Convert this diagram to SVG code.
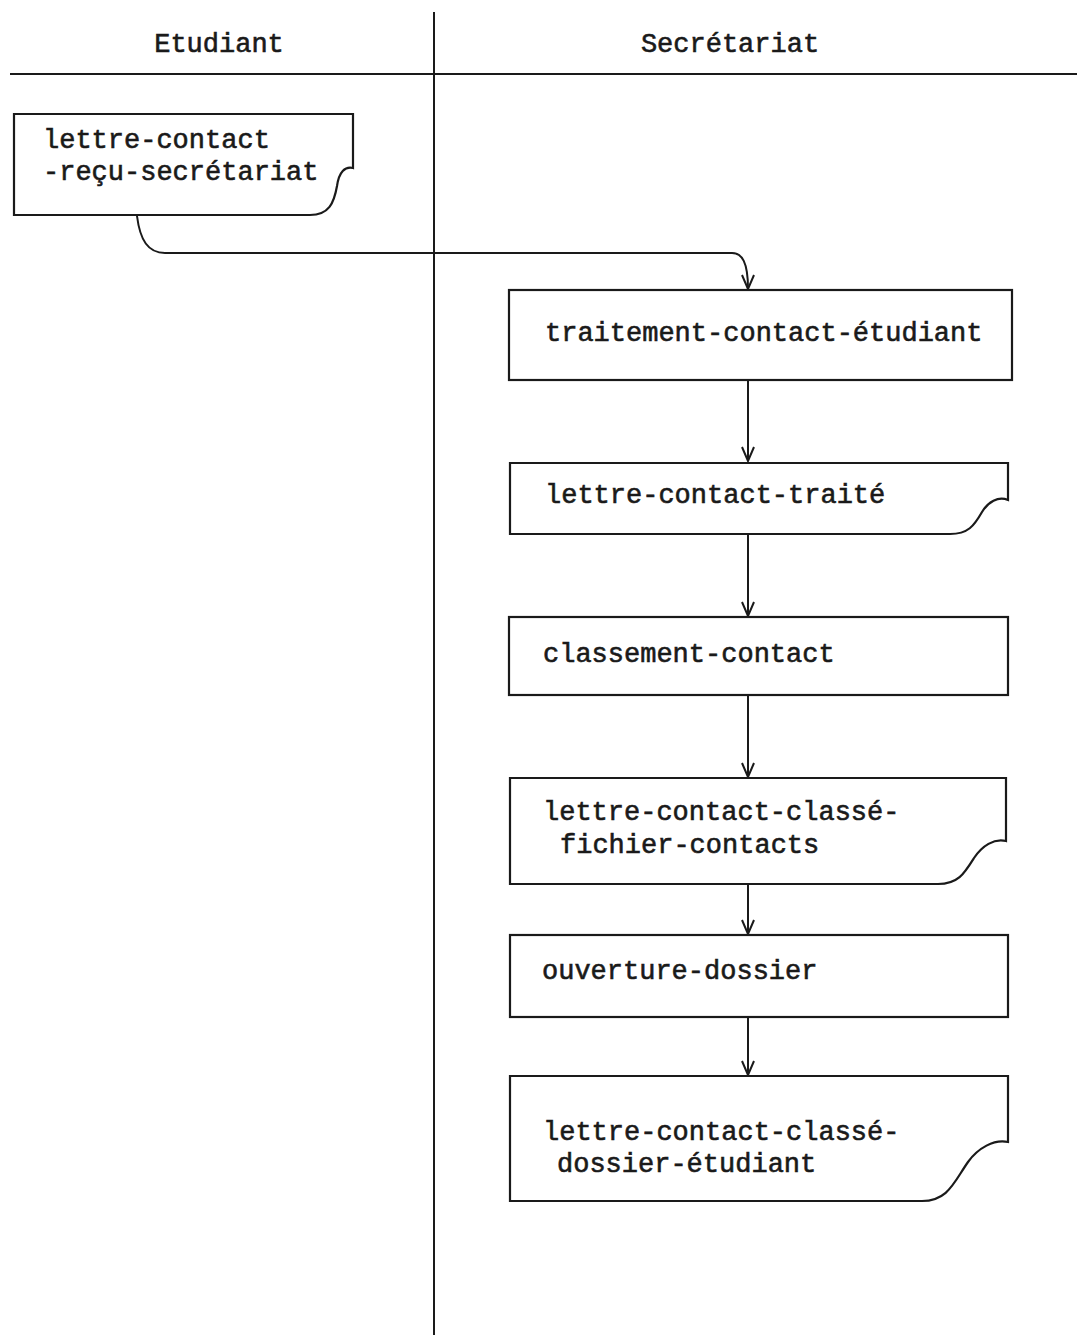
<svg xmlns="http://www.w3.org/2000/svg" width="1077" height="1335" viewBox="0 0 1077 1335">
<defs>
<style>
.ln{fill:none;stroke:#1a1a1a;stroke-width:2}
.shape{fill:#fff;stroke:#1a1a1a;stroke-width:2.2}
text{font-family:"Liberation Mono","DejaVu Sans Mono",monospace;font-size:27px;fill:#1a1a1a;stroke:#1a1a1a;stroke-width:0.6}
</style>
<marker id="arr" markerWidth="16" markerHeight="14" refX="15" refY="7" orient="auto" markerUnits="userSpaceOnUse" viewBox="0 0 16 14">
<path d="M1,1 L15,7 L1,13" fill="none" stroke="#1a1a1a" stroke-width="2"/>
</marker>
</defs>
<rect width="1077" height="1335" fill="#fff"/>
<g id="lanes">
<line class="ln" x1="10" y1="74" x2="1077" y2="74"/>
<line class="ln" x1="434" y1="12" x2="434" y2="1335"/>
<text x="219" y="52" text-anchor="middle">Etudiant</text>
<text x="730" y="52" text-anchor="middle">Secrétariat</text>
</g>
<g id="connectors">
<path class="ln" d="M137,216 C140,240 148,253 165,253 H732 C742,253 748,262 748,289" marker-end="url(#arr)"/>
<line class="ln" x1="748" y1="380" x2="748" y2="461" marker-end="url(#arr)"/>
<line class="ln" x1="748" y1="535" x2="748" y2="616" marker-end="url(#arr)"/>
<line class="ln" x1="748" y1="695" x2="748" y2="777" marker-end="url(#arr)"/>
<line class="ln" x1="748" y1="885" x2="748" y2="934" marker-end="url(#arr)"/>
<line class="ln" x1="748" y1="1017" x2="748" y2="1075" marker-end="url(#arr)"/>
</g>
<g id="doc-lettre-contact-recu">
<path class="shape" d="M14,114 H353 V168 C345,166 339,172 337,186 C334,203 329,215 310,215 H14 Z"/>
<text x="43" y="148">lettre-contact</text>
<text x="43" y="180">-reçu-secrétariat</text>
</g>
<g id="proc-traitement">
<rect class="shape" x="509" y="290" width="503" height="90"/>
<text x="545" y="341">traitement-contact-étudiant</text>
</g>
<g id="doc-lettre-contact-traite">
<path class="shape" d="M510,463 H1008 V500 C998,496 988,502 982,512 C974,526 968,534 950,534 H510 Z"/>
<text x="545" y="503">lettre-contact-traité</text>
</g>
<g id="proc-classement">
<rect class="shape" x="509" y="617" width="499" height="78"/>
<text x="543" y="662">classement-contact</text>
</g>
<g id="doc-fichier-contacts">
<path class="shape" d="M510,778 H1006 V841 C994,838 982,846 974,858 C964,874 958,884 938,884 H510 Z"/>
<text x="543" y="820">lettre-contact-classé-</text>
<text x="560" y="853">fichier-contacts</text>
</g>
<g id="proc-ouverture">
<rect class="shape" x="510" y="935" width="498" height="82"/>
<text x="542" y="979">ouverture-dossier</text>
</g>
<g id="doc-dossier-etudiant">
<path class="shape" d="M510,1076 H1008 V1142 C994,1139 978,1148 968,1162 C954,1182 948,1201 922,1201 H510 Z"/>
<text x="543" y="1140">lettre-contact-classé-</text>
<text x="557" y="1172">dossier-étudiant</text>
</g>
</svg>
